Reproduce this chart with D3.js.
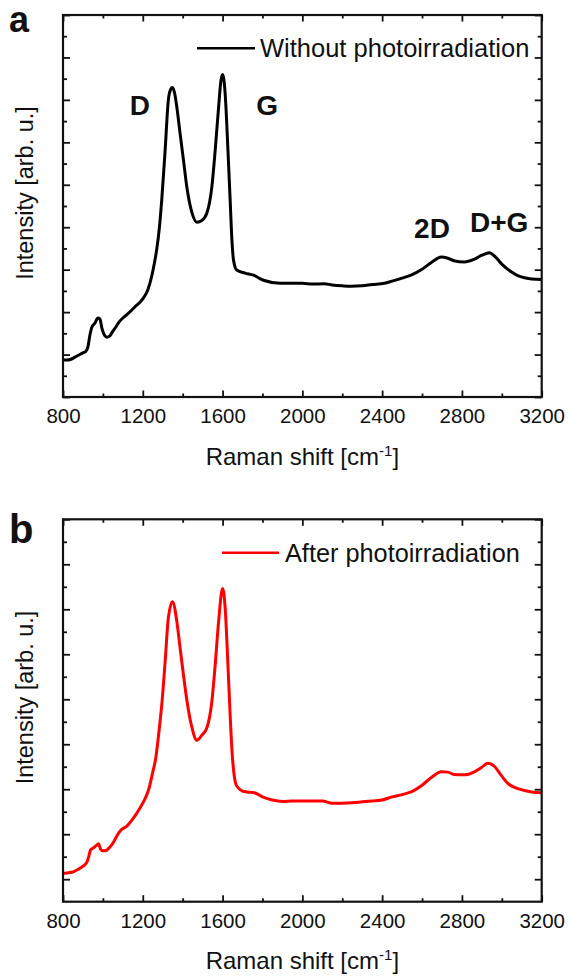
<!DOCTYPE html>
<html><head><meta charset="utf-8">
<script src="https://cdn.jsdelivr.net/npm/d3@7"></script>
<style>
body{margin:0;background:#fff}
svg{display:block}
text{font-family:"Liberation Sans",Arial,Helvetica,sans-serif;fill:#111}
</style>
</head><body>
<svg id="chart" width="568" height="976"></svg>
<script>
// ---------- data ----------
const xMajorTicks = [800, 1200, 1600, 2000, 2400, 2800, 3200];
const xMinorTicks = [1000, 1400, 1800, 2200, 2600, 3000];

// Panel a: without photoirradiation
const shiftA = [800,820,840,860,880,900,915,925,935,945,960,975,985,995,1005,1020,1035,1050,1065,1080,1100,1130,1160,1200,1225,1245,1260,1270,1283,1295,1312,1328,1340,1349,1360,1371,1387,1404,1421,1446,1471,1496,1521,1546,1563,1580,1592,1600,1613,1627,1638,1647,1655,1671,1713,1755,1805,1889,1950,2000,2050,2109,2150,2200,2244,2300,2350,2411,2450,2500,2545,2600,2650,2696,2730,2760,2812,2860,2900,2938,2970,3000,3047,3080,3114,3150,3200];
const intensityA = [0.87,0.87,0.89,0.94,0.99,1.04,1.08,1.18,1.46,1.65,1.74,1.86,1.84,1.62,1.48,1.41,1.44,1.55,1.65,1.76,1.86,1.98,2.12,2.31,2.52,2.85,3.2,3.48,3.98,4.64,5.81,6.99,7.25,7.29,7.15,6.82,6.21,5.58,4.94,4.35,4.12,4.16,4.33,4.94,5.81,6.82,7.46,7.60,7.15,5.81,4.64,3.69,3.22,2.99,2.92,2.87,2.75,2.68,2.68,2.68,2.66,2.67,2.64,2.62,2.61,2.62,2.65,2.68,2.73,2.80,2.87,3.01,3.18,3.30,3.27,3.21,3.18,3.24,3.34,3.40,3.29,3.13,2.95,2.86,2.81,2.78,2.77];

// Panel b: after photoirradiation
const shiftB = [800,820,850,880,900,920,930,938,950,965,978,988,1000,1012,1030,1050,1065,1075,1090,1120,1150,1170,1200,1230,1250,1265,1283,1295,1312,1328,1349,1371,1387,1404,1421,1446,1471,1496,1521,1546,1563,1580,1600,1613,1627,1638,1647,1655,1670,1700,1722,1760,1800,1850,1900,1950,2000,2050,2100,2150,2200,2250,2300,2350,2400,2450,2500,2545,2600,2650,2696,2730,2760,2813,2860,2900,2930,2960,3000,3030,3070,3114,3150,3200];
const intensityB = [0.13,0.14,0.16,0.23,0.29,0.38,0.52,0.65,0.69,0.74,0.79,0.67,0.63,0.63,0.69,0.80,0.92,1.00,1.09,1.18,1.34,1.47,1.69,2.00,2.38,2.69,3.36,3.87,4.83,5.80,6.17,5.72,5.14,4.54,3.98,3.38,3.09,3.20,3.36,3.94,4.76,5.72,6.46,6.03,4.76,3.65,2.87,2.43,2.08,1.96,1.94,1.92,1.83,1.76,1.73,1.74,1.74,1.74,1.74,1.69,1.69,1.70,1.72,1.74,1.76,1.83,1.88,1.94,2.09,2.27,2.39,2.38,2.33,2.32,2.38,2.49,2.58,2.52,2.29,2.13,2.03,1.97,1.94,1.92];

// Peak annotations (panel a), data coordinates
const peakNames = ["D", "G", "2D", "D+G"];
const peakShift = [1186, 1824, 2650, 2987];
const peakLevel = [6.64, 6.64, 3.74, 3.89];

const legendNames = ["Without photoirradiation", "After photoirradiation"];
const panelLetters = ["a", "b"];
const xTitle = "Raman shift [cm";
const yTitle = "Intensity [arb. u.]";

// ---------- drawing ----------
const svg = d3.select("#chart");
const left = 63, right = 541.7;

const panels = [
  {top: 15, bottom: 397, yDomain: [0, 9], yMajor: d3.range(0, 10), yMinor: d3.range(0.5, 9, 1),
   xs: shiftA, ys: intensityA, color: "#000", letter: panelLetters[0], letterSize: 36, letterY: 32,
   legend: legendNames[0], legX: [197, 255], legTextX: 260, legY: 48.3, legBase: 57, legSize: 25.5, labels: true},
  {top: 519.3, bottom: 901.7, yDomain: [-0.5, 8], yMajor: d3.range(0, 9), yMinor: d3.range(0.5, 8, 1),
   xs: shiftB, ys: intensityB, color: "#ff0000", letter: panelLetters[1], letterSize: 40, letterY: 543,
   legend: legendNames[1], legX: [222, 279], legTextX: 285, legY: 552.7, legBase: 562, legSize: 25.3, labels: false}
];

panels.forEach(p => {
  const x = d3.scaleLinear().domain([800, 3200]).range([left, right]);
  const y = d3.scaleLinear().domain(p.yDomain).range([p.bottom, p.top]);
  const g = svg.append("g");

  // data line
  const data = p.xs.map((v, i) => [v, p.ys[i]]);
  g.append("path").datum(data)
    .attr("fill", "none").attr("stroke", p.color).attr("stroke-width", 3)
    .attr("stroke-linejoin", "round")
    .attr("d", d3.line().x(d => x(d[0])).y(d => y(d[1])).curve(d3.curveMonotoneX));

  const styleAxis = sel => {
    sel.select(".domain").remove();
    sel.selectAll(".tick line").attr("stroke", "#111").attr("stroke-width", 1.8);
  };

  // x axes
  const bx = g.append("g").attr("transform", `translate(0,${p.bottom})`)
    .call(d3.axisBottom(x).tickValues(xMajorTicks).tickSizeInner(-6.5).tickSizeOuter(0).tickFormat(d3.format("d")));
  styleAxis(bx);
  bx.selectAll(".tick text").attr("dy", null).attr("y", 26.3)
    .style("font-size", "20.5px").attr("fill", "#111");
  g.append("g").attr("transform", `translate(0,${p.bottom})`)
    .call(d3.axisBottom(x).tickValues(xMinorTicks).tickSizeInner(-3.5).tickSizeOuter(0).tickFormat(""))
    .call(styleAxis);
  g.append("g").attr("transform", `translate(0,${p.top})`)
    .call(d3.axisTop(x).tickValues(xMajorTicks).tickSizeInner(-6.5).tickSizeOuter(0).tickFormat(""))
    .call(styleAxis);
  g.append("g").attr("transform", `translate(0,${p.top})`)
    .call(d3.axisTop(x).tickValues(xMinorTicks).tickSizeInner(-3.5).tickSizeOuter(0).tickFormat(""))
    .call(styleAxis);

  // y axes (no labels)
  [[d3.axisLeft, left], [d3.axisRight, right]].forEach(([ax, pos]) => {
    g.append("g").attr("transform", `translate(${pos},0)`)
      .call(ax(y).tickValues(p.yMajor).tickSizeInner(-7).tickSizeOuter(0).tickFormat(""))
      .call(styleAxis);
    g.append("g").attr("transform", `translate(${pos},0)`)
      .call(ax(y).tickValues(p.yMinor).tickSizeInner(-4).tickSizeOuter(0).tickFormat(""))
      .call(styleAxis);
  });

  // frame
  g.append("rect").attr("x", left).attr("y", p.top)
    .attr("width", right - left).attr("height", p.bottom - p.top)
    .attr("fill", "none").attr("stroke", "#111").attr("stroke-width", 2.2);

  // x title
  const xt = g.append("text").attr("x", (left + right) / 2).attr("y", p.bottom + 67.5)
    .attr("text-anchor", "middle").style("font-size", "24px");
  xt.append("tspan").text(xTitle);
  xt.append("tspan").attr("dy", -9).style("font-size", "15px").text("-1");
  xt.append("tspan").attr("dy", 9).text("]");

  // y title
  const cy = (p.top + p.bottom) / 2 - 13;
  g.append("text").attr("transform", `translate(33,${cy}) rotate(-90)`)
    .attr("text-anchor", "middle").style("font-size", "23.5px").text(yTitle);

  // legend
  g.append("line").attr("x1", p.legX[0]).attr("x2", p.legX[1])
    .attr("y1", p.legY).attr("y2", p.legY)
    .attr("stroke", p.color).attr("stroke-width", 2.5);
  g.append("text").attr("x", p.legTextX).attr("y", p.legBase)
    .style("font-size", p.legSize + "px").text(p.legend);

  // panel letter
  g.append("text").attr("x", 9).attr("y", p.letterY)
    .style("font-size", p.letterSize + "px").style("font-weight", "bold").attr("fill", "#000")
    .text(p.letter);

  // peak labels
  if (p.labels) {
    peakNames.forEach((n, i) => {
      g.append("text").attr("x", x(peakShift[i])).attr("y", y(peakLevel[i]))
        .attr("text-anchor", "middle").style("font-size", "28px").style("font-weight", "bold")
        .attr("fill", "#000").text(n);
    });
  }
});
</script>
</body></html>
